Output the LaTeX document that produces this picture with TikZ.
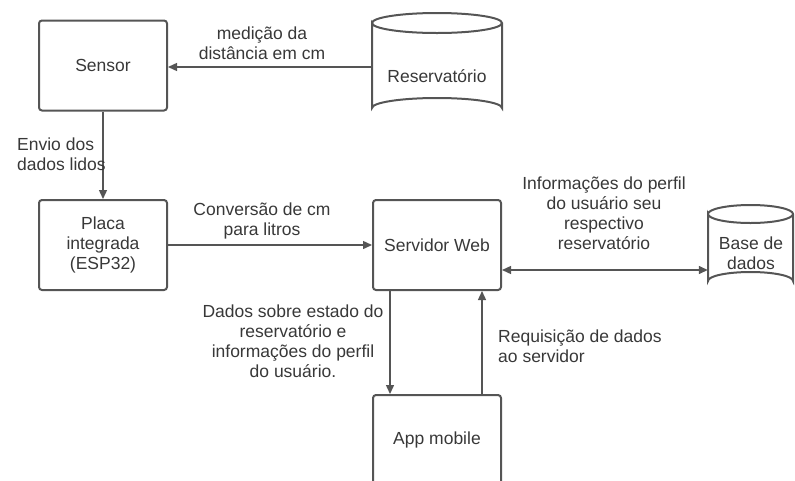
\documentclass[tikz,border=0pt]{standalone}
\usepackage{fontspec}
\setmainfont{Liberation Sans}
\usetikzlibrary{arrows.meta,positioning}
\definecolor{edge}{HTML}{555555}
\definecolor{ink}{HTML}{383838}
\begin{document}
\begin{tikzpicture}[x=1pt,y=-1pt,
  every node/.style={text=ink,font=\fontsize{17.5}{20}\selectfont,inner sep=0pt},
  procbox/.style={draw=edge,line width=2pt,rounded corners=3pt,minimum width=128pt,minimum height=90pt,align=center},
  lbl/.style={align=center},
  link/.style={draw=edge,line width=1.4pt,-{Triangle[length=9pt,width=8pt]}},
  twoway/.style={draw=edge,line width=1.4pt,{Triangle[length=9pt,width=8pt]}-{Triangle[length=9pt,width=8pt]}},
  cyl/.style={draw=edge,line width=2pt}]
\useasboundingbox (0,0) rectangle (795,480);

% process boxes
\node[procbox] (sensor) at (103,65.5) {Sensor};
\node[procbox] (placa) at (103,245) {Placa\\integrada\\(ESP32)};
\node[procbox] (srv) at (437,245) {Servidor Web};
\node[procbox] (app) at (437,440) {App mobile};

% storage cylinders: an invisible frame for anchoring, outline drawn by hand
\node[minimum width=130pt,minimum height=105pt] (res) at (437,67) {};
\draw[cyl] (372,23) arc[start angle=180,end angle=540,x radius=65,y radius=10]
  -- (372,108) arc[start angle=180,end angle=360,x radius=65,y radius=10] -- (502,23);
\node at (437,76) {Reservatório};

\node[minimum width=85pt,minimum height=85pt] (db) at (750.5,247.5) {};
\draw[cyl] (708,214) arc[start angle=180,end angle=540,x radius=42.5,y radius=9]
  -- (708,281) arc[start angle=180,end angle=360,x radius=42.5,y radius=9] -- (793,214);
\node[lbl] at (751,253) {Base de\\dados};

% connector ports
\coordinate (srvport) at ([yshift=-25pt]srv.east);
\coordinate (appdown) at ([xshift=-47pt]app.north);
\coordinate (appup) at ([xshift=45pt]app.north);

% connectors
\draw[link] (res.west) -- (sensor.east |- res.west);
\draw[link] (sensor.south) -- (placa.north);
\draw[link] (placa.east) -- (srv.west);
\draw[link] (srv.south -| appdown) -- (appdown);
\draw[link] (appup) -- (srv.south -| appup);
\draw[twoway] (srvport) -- (db.west |- srvport);

% connector labels
\node[lbl] at (262,43) {medição da\\distância em cm};
\node[align=left,anchor=west] at (17,154) {Envio dos\\dados lidos};
\node[lbl] at (262,221) {Conversão de cm\\para litros};
\node[lbl] at (293,341) {Dados sobre estado do\\reservatório e\\informações do perfil\\do usuário.};
\node[align=left,anchor=west] at (498,346) {Requisição de dados\\ao servidor};
\node[lbl] at (604,213) {Informações do perfil\\do usuário seu\\respectivo\\reservatório};
\end{tikzpicture}
\end{document}
